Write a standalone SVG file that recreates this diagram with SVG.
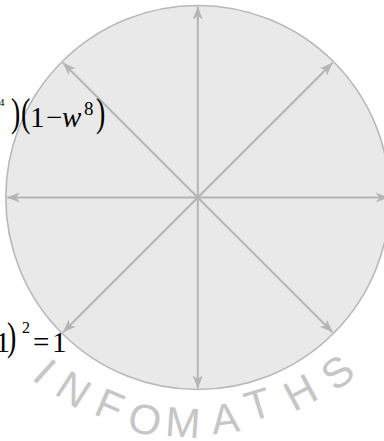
<svg xmlns="http://www.w3.org/2000/svg" width="384" height="441" viewBox="0 0 384 441">
<style>
.disc{fill:#e9e9e9;stroke:#b8b8b8;stroke-width:1.6}
.ax{stroke:#b5b5b5;stroke-width:2;fill:none}
.m{font-family:"Liberation Serif","Times New Roman",serif;fill:#000}
.wm{font-family:"Liberation Sans",Arial,sans-serif;font-size:42px;fill:#c6c6c6;text-anchor:middle}
</style>
<defs>
<marker id="ah" viewBox="-14 -6 15 12" refX="0" refY="0" markerWidth="15" markerHeight="12" markerUnits="userSpaceOnUse" orient="auto-start-reverse">
<path d="M0,0 L-13,-5 L-9.5,0 L-13,5 Z" fill="#b5b5b5"/>
</marker>
</defs>
<rect width="384" height="441" fill="#ffffff"/>
<g id="circle"><circle class="disc" cx="197.8" cy="197.5" r="192"/></g>
<g id="connectors">
<line class="ax" x1="197.8" y1="6.5" x2="197.8" y2="388.5" marker-start="url(#ah)" marker-end="url(#ah)"/>
<line class="ax" x1="6.8" y1="197.5" x2="388.8" y2="197.5" marker-start="url(#ah)" marker-end="url(#ah)"/>
<line class="ax" x1="63" y1="62.7" x2="332.6" y2="332.3" marker-start="url(#ah)" marker-end="url(#ah)"/>
<line class="ax" x1="332.6" y1="62.7" x2="63" y2="332.3" marker-start="url(#ah)" marker-end="url(#ah)"/>
</g>
<g id="formula-top">
<text class="m" x="-1" y="106" font-size="11">4</text>
<text class="m" font-size="40" transform="translate(11,126) scale(0.7,1)">)</text>
<text class="m" font-size="40" transform="translate(21,126) scale(0.7,1)">(</text>
<text class="m" x="30" y="127" font-size="29">1</text>
<text class="m" x="46" y="127" font-size="29">−</text>
<text class="m" x="62" y="127" font-size="29" font-style="italic">w</text>
<text class="m" x="84" y="114.5" font-size="19">8</text>
<text class="m" font-size="40" transform="translate(96,126) scale(0.7,1)">)</text>
</g>
<g id="formula-bottom">
<text class="m" x="-4.5" y="352" font-size="29">1</text>
<text class="m" font-size="40" transform="translate(7,350) scale(0.7,1)">)</text>
<text class="m" x="22" y="333" font-size="16">2</text>
<text class="m" x="33" y="352" font-size="29">=</text>
<text class="m" x="52" y="352" font-size="29">1</text>
</g>
<g id="watermark">
<text class="wm" transform="translate(45,371) rotate(42)" y="15">I</text>
<text class="wm" transform="translate(74,389) rotate(33)" y="15">N</text>
<text class="wm" transform="translate(110,405) rotate(23)" y="15">F</text>
<text class="wm" transform="translate(145,419) rotate(13)" y="15">O</text>
<text class="wm" transform="translate(183,422) rotate(4)" y="15">M</text>
<text class="wm" transform="translate(225,418) rotate(-7)" y="15">A</text>
<text class="wm" transform="translate(258,404) rotate(-17)" y="15">T</text>
<text class="wm" transform="translate(300,392) rotate(-28)" y="15">H</text>
<text class="wm" transform="translate(337,372) rotate(-38.5)" y="15">S</text>
</g>
</svg>
